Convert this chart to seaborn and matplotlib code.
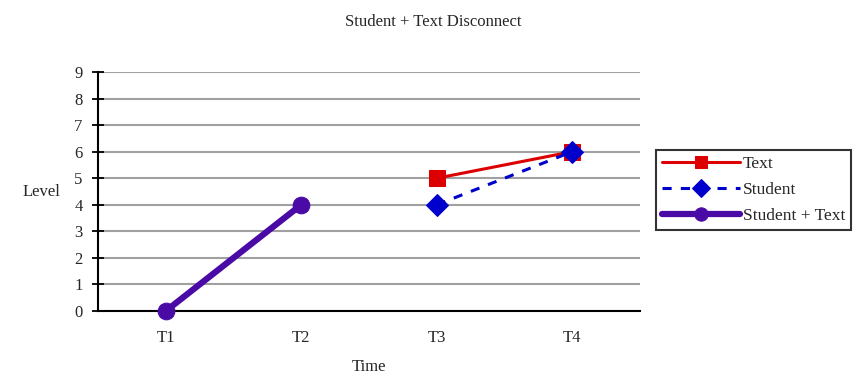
import numpy as np
import pandas as pd
import matplotlib
matplotlib.use('Agg')
import matplotlib.pyplot as plt
import seaborn as sns

# data
times = ["T1", "T2", "T3", "T4"]
text_times = ["T3", "T4"]
text_level = [5, 6]
student_times = ["T3", "T4"]
student_level = [4, 6]
both_times = ["T1", "T2"]
both_level = [0, 4]

sns.set_theme(style="white")
plt.rcParams['font.family'] = ['Liberation Serif', 'DejaVu Serif']
fs = 12

fig = plt.figure(figsize=(8.67, 3.75), dpi=100)
ax = fig.add_axes([98 / 867, 64 / 375, 542 / 867, 239 / 375])

series = [
    ("Text", text_times, text_level, dict(color="#DD0000", lw=2.2, ls="-", marker="s", ms=11)),
    ("Student", student_times, student_level, dict(color="#0000CC", lw=2.2, ls=(0, (3, 3)), marker="D", ms=11)),
    ("Student + Text", both_times, both_level, dict(color="#4A0AA6", lw=4.5, ls="-", marker="o", ms=12)),
]

for name, t, v, st in series:
    df = pd.DataFrame({"pos": [times.index(x) for x in t], "level": v})
    sns.lineplot(data=df, x="pos", y="level", ax=ax, color=st["color"], lw=st["lw"],
                 linestyle=st["ls"], marker=st["marker"], markersize=st["ms"],
                 markeredgecolor=st["color"], label=name, clip_on=False, zorder=3)

ax.set_xlim(-0.5, len(times) - 0.5)
ax.set_ylim(0, 9)
ax.set_yticks(range(0, 10))
ax.set_xticks(range(len(times)))
ax.set_xticklabels(times)
ax.set_xticks(np.arange(-0.5, len(times), 1), minor=True)
ax.tick_params(axis="x", which="major", length=0, pad=14, labelsize=fs)
ax.tick_params(axis="x", which="minor", direction="inout", length=8, width=1.3, color="black")
ax.tick_params(axis="y", direction="inout", length=8, width=1.3, color="black", labelsize=fs, pad=7, left=True)

ax.yaxis.grid(True, color="#A0A0A0", lw=1.5)
ax.set_axisbelow(True)
for side in ["top", "right"]:
    ax.spines[side].set_visible(False)
for side in ["left", "bottom"]:
    ax.spines[side].set_color("black")
    ax.spines[side].set_linewidth(1.5)

ax.set_xlabel("Time", fontsize=fs, labelpad=9)
ax.set_ylabel("Level", fontsize=fs, rotation=0, labelpad=24, va="center")
fig.suptitle("Student + Text Disconnect", fontsize=fs, y=0.962)

leg = ax.legend(loc="upper left", bbox_to_anchor=(656 / 867, 1 - 150 / 375),
                bbox_transform=fig.transFigure, frameon=True, fancybox=False,
                edgecolor="black", fontsize=12.5, handlelength=4.5, handletextpad=0.15,
                borderpad=0.35, labelspacing=0.55, markerscale=0.8, borderaxespad=0)
leg.get_frame().set_linewidth(1.5)

fig.savefig("out.png", dpi=100)
